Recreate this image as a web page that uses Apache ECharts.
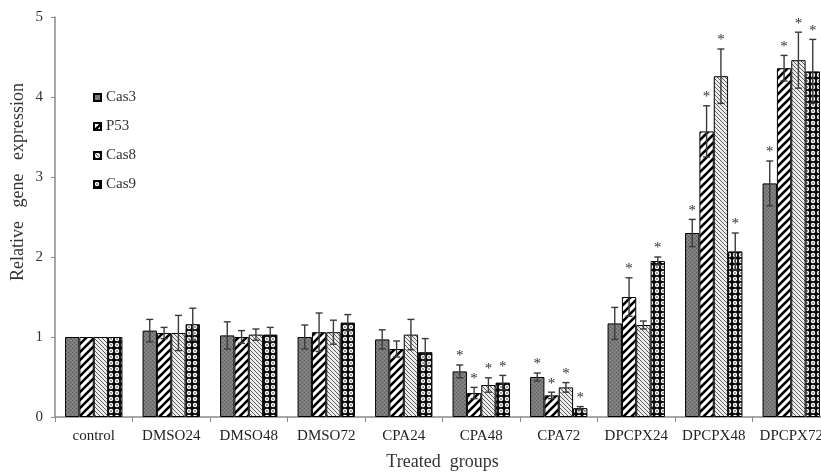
<!DOCTYPE html>
<html>
<head>
<meta charset="utf-8">
<script src="https://cdn.jsdelivr.net/npm/echarts@6/dist/echarts.min.js"></script>
<style>
  html, body { margin: 0; padding: 0; background: #fff; }
  #chart { width: 821px; height: 472px; }
</style>
</head>
<body>
<div id="chart"></div>
<script>
// Treatment groups along the x axis
const categories = ['control', 'DMSO24', 'DMSO48', 'DMSO72', 'CPA24', 'CPA48', 'CPA72', 'DPCPX24', 'DPCPX48', 'DPCPX72'];

// Mean relative expression per gene
const cas3 = [1.00, 1.08, 1.02, 1.00, 0.97, 0.57, 0.50, 1.17, 2.30, 2.92];
const p53  = [1.00, 1.05, 1.00, 1.06, 0.85, 0.30, 0.27, 1.50, 3.57, 4.36];
const cas8 = [1.00, 1.05, 1.03, 1.06, 1.03, 0.40, 0.37, 1.15, 4.26, 4.46];
const cas9 = [1.00, 1.16, 1.03, 1.18, 0.81, 0.43, 0.11, 1.95, 2.07, 4.32];

// Standard deviations
const cas3Err = [0, 0.14, 0.17, 0.15, 0.12, 0.08, 0.05, 0.20, 0.17, 0.28];
const p53Err  = [0, 0.07, 0.08, 0.24, 0.10, 0.07, 0.04, 0.24, 0.32, 0.16];
const cas8Err = [0, 0.22, 0.07, 0.15, 0.19, 0.09, 0.06, 0.05, 0.34, 0.35];
const cas9Err = [0, 0.20, 0.09, 0.10, 0.17, 0.09, 0.02, 0.05, 0.23, 0.40];

// Significance markers (1 = significant vs control)
const cas3Sig = [0, 0, 0, 0, 0, 1, 1, 0, 1, 1];
const p53Sig  = [0, 0, 0, 0, 0, 1, 1, 1, 1, 1];
const cas8Sig = [0, 0, 0, 0, 0, 1, 1, 0, 1, 1];
const cas9Sig = [0, 0, 0, 0, 0, 1, 1, 1, 1, 1];

// Y axis ticks
const yTicks = [0, 1, 2, 3, 4, 5];

const SERIF = '"Liberation Serif", "DejaVu Serif", serif';
const CATEGORY_GAP = 0.26;

// ---- hatch / texture fills ----
function tile(w, h, draw) {
  const c = document.createElement('canvas');
  c.width = w; c.height = h;
  draw(c.getContext('2d'), w, h);
  return { image: c, repeat: 'repeat' };
}
const stippleFill = tile(4, 4, (g, w, h) => {
  g.fillStyle = '#7a7a7a'; g.fillRect(0, 0, w, h);
  g.fillStyle = '#5c5c5c';
  g.fillRect(0, 0, 1, 1); g.fillRect(2, 2, 1, 1);
  g.fillStyle = '#919191';
  g.fillRect(2, 0, 1, 1); g.fillRect(0, 2, 1, 1);
});
const wideHatchFill = tile(8, 8, (g, w, h) => {
  g.fillStyle = '#ffffff'; g.fillRect(0, 0, w, h);
  g.strokeStyle = '#000'; g.lineWidth = 2.6; g.lineCap = 'square';
  for (let k = -1; k <= 1; k++) {
    g.beginPath(); g.moveTo(k * w, h); g.lineTo(k * w + w, 0); g.stroke();
  }
});
const fineHatchFill = tile(4, 4, (g, w, h) => {
  g.fillStyle = '#ececec'; g.fillRect(0, 0, w, h);
  g.strokeStyle = '#5e5e5e'; g.lineWidth = 1;
  for (let k = -1; k <= 1; k++) {
    g.beginPath(); g.moveTo(k * w, 0); g.lineTo(k * w + w, h); g.stroke();
  }
});
const dotFill = tile(6, 6, (g, w, h) => {
  g.fillStyle = '#0a0a0a'; g.fillRect(0, 0, w, h);
  g.fillStyle = '#ffffff';
  g.beginPath(); g.arc(3, 3, 2.2, 0, Math.PI * 2); g.fill();
  g.fillStyle = '#222';
  g.beginPath(); g.arc(3, 3, 0.8, 0, Math.PI * 2); g.fill();
});

const genes = [
  { name: 'Cas3', values: cas3, err: cas3Err, sig: cas3Sig, fill: stippleFill },
  { name: 'P53',  values: p53,  err: p53Err,  sig: p53Sig,  fill: wideHatchFill },
  { name: 'Cas8', values: cas8, err: cas8Err, sig: cas8Sig, fill: fineHatchFill },
  { name: 'Cas9', values: cas9, err: cas9Err, sig: cas9Sig, fill: dotFill }
];

// Error bars + asterisks for one gene, offset to sit on its bar in the group
function errorRenderer(k, nGenes) {
  return function (params, api) {
    const idx = api.value(0);
    const v = api.value(1);
    const e = api.value(2);
    const s = api.value(3);
    const band = api.size([1, 0])[0];
    const bw = band * (1 - CATEGORY_GAP) / nGenes;
    const cx = api.coord([idx, 0])[0] + (k - (nGenes - 1) / 2) * bw;
    const yTop = api.coord([idx, v + e])[1];
    const yBot = api.coord([idx, v - e])[1];
    const half = 3.5;
    const style = { stroke: '#3a3a3a', lineWidth: 1.4 };
    const children = [];
    if (e > 0) {
      children.push(
        { type: 'line', shape: { x1: cx, y1: yTop, x2: cx, y2: yBot }, style },
        { type: 'line', shape: { x1: cx - half, y1: yTop, x2: cx + half, y2: yTop }, style },
        { type: 'line', shape: { x1: cx - half, y1: yBot, x2: cx + half, y2: yBot }, style }
      );
    }
    if (s) {
      children.push({
        type: 'text',
        style: {
          text: '*', x: cx, y: yTop - 1,
          align: 'center', verticalAlign: 'bottom',
          fontSize: 15, fontFamily: SERIF, fill: '#333'
        }
      });
    }
    return { type: 'group', children };
  };
}

const series = [];
genes.forEach((g) => {
  series.push({
    name: g.name,
    type: 'bar',
    data: g.values,
    barGap: '0%',
    barCategoryGap: (CATEGORY_GAP * 100) + '%',
    itemStyle: { color: g.fill, borderColor: '#000', borderWidth: 1 },
    emphasis: { disabled: true }
  });
});
genes.forEach((g, k) => {
  series.push({
    name: g.name + ' SD',
    type: 'custom',
    renderItem: errorRenderer(k, genes.length),
    data: g.values.map((v, i) => [i, v, g.err[i], g.sig[i]]),
    z: 5,
    silent: true
  });
});

const chart = echarts.init(document.getElementById('chart'));
chart.setOption({
  animation: false,
  backgroundColor: '#fff',
  grid: { left: 55, right: -9, top: 17, bottom: 55, outerBoundsMode: 'none', containLabel: false },
  legend: {
    data: genes.map(g => g.name),
    orient: 'vertical',
    left: 88, top: 85,
    itemWidth: 7, itemHeight: 7, itemGap: 14,
    icon: 'rect',
    textStyle: { fontFamily: SERIF, fontSize: 15, color: '#333' }
  },
  graphic: [{
    type: 'text',
    x: 18, y: 182,
    rotation: Math.PI / 2,
    style: {
      text: 'Relative   gene   expression',
      align: 'center', verticalAlign: 'middle',
      fontFamily: SERIF, fontSize: 18, fill: '#333'
    }
  }],
  xAxis: {
    type: 'category',
    data: categories,
    name: 'Treated  groups',
    nameLocation: 'middle',
    nameGap: 36,
    nameTextStyle: { fontFamily: SERIF, fontSize: 18, color: '#333' },
    axisLine: { lineStyle: { color: '#8a8a8a', width: 1.5 } },
    axisTick: { show: true, alignWithLabel: false, length: 5, lineStyle: { color: '#8a8a8a' } },
    axisLabel: { fontFamily: SERIF, fontSize: 15, color: '#222', margin: 12, interval: 0 }
  },
  yAxis: {
    type: 'value',
    min: yTicks[0], max: yTicks[yTicks.length - 1], interval: 1,
    axisLine: { show: true, lineStyle: { color: '#8a8a8a', width: 1.5 } },
    axisTick: { show: true, length: 4, lineStyle: { color: '#8a8a8a' } },
    axisLabel: { fontFamily: SERIF, fontSize: 15, color: '#333', margin: 12 },
    splitLine: { show: false }
  },
  series
});
</script>
</body>
</html>
